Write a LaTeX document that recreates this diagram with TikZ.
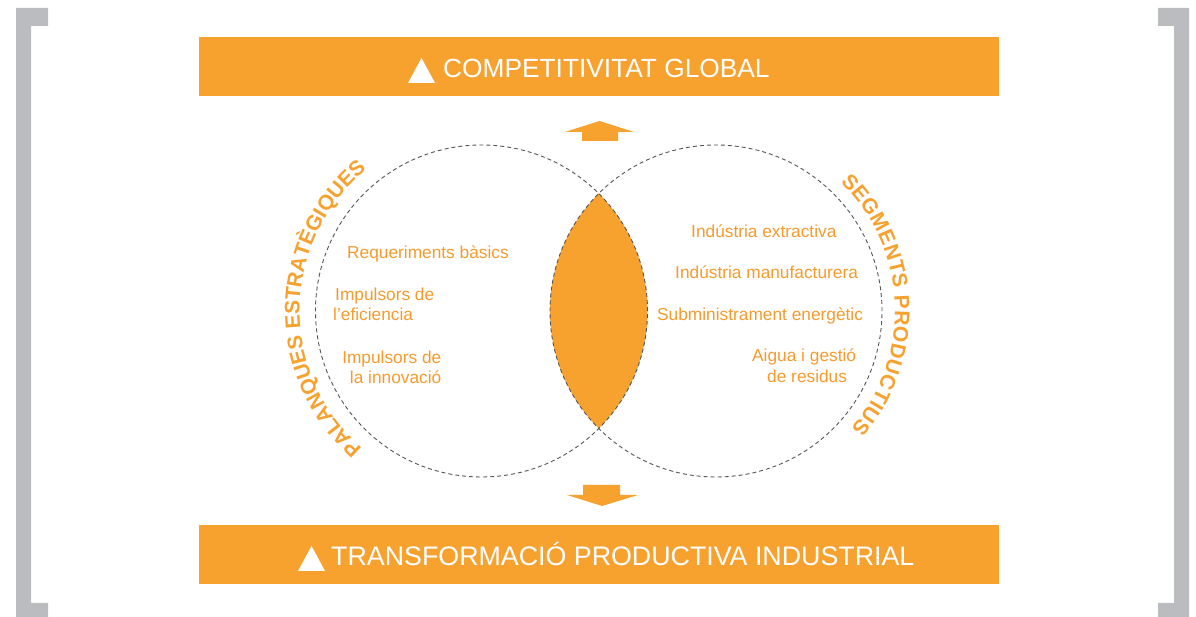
\documentclass[tikz,border=0pt]{standalone}
\usepackage{fontspec}
\setmainfont{Liberation Sans}
\newfontfamily\arcfont{Liberation Sans Bold}
\usetikzlibrary{decorations.text}
\definecolor{orng}{HTML}{F7A12F}
\definecolor{itm}{HTML}{F59B2E}
\definecolor{brk}{HTML}{BBBCC0}
\definecolor{dsh}{HTML}{555555}
\begin{document}
\begin{tikzpicture}[x=1pt,y=1pt,
  bracket/.style={fill=brk},
  banner/.style={fill=orng, draw=none, minimum width=800pt, minimum height=59pt, inner sep=0pt},
  bantxt/.style={text=white, inner sep=0pt, anchor=base west},
  circ/.style={circle, draw=dsh, line width=0.9pt, dash pattern=on 4pt off 3pt, minimum size=332pt, inner sep=0pt},
  itemw/.style={text=itm, font=\fontsize{17.3}{20}\selectfont, inner sep=0pt, anchor=base west},
  iteme/.style={text=itm, font=\fontsize{17.3}{20}\selectfont, inner sep=0pt, anchor=base east},
  blockarrow/.style={fill=orng}
]
\useasboundingbox (0,0) rectangle (1196,617);
% brackets
\fill[bracket] (16,609) -- (48,609) -- (48,591) -- (31,591) -- (31,14) -- (48,14) -- (48,0) -- (16,0) -- cycle;
\fill[bracket] (1189,609) -- (1158,609) -- (1158,591) -- (1174,591) -- (1174,14) -- (1158,14) -- (1158,0) -- (1189,0) -- cycle;
% banners
\node[banner] (topban) at (599,550.5) {};
\node[banner] (botban) at (599,62.5) {};
\fill[white] (408,534) -- (435,534) -- (421.5,559) -- cycle;
\node[bantxt, font=\fontsize{26.3}{30}\selectfont] (toptxt) at (443,539) {COMPETITIVITAT GLOBAL};
\fill[white] (298,46) -- (325,46) -- (311.5,71) -- cycle;
\node[bantxt, font=\fontsize{26.8}{30}\selectfont] (bottxt) at (331,51) {TRANSFORMACIÓ PRODUCTIVA INDUSTRIAL};
% block arrows
\fill[blockarrow] (582,476) -- (618,476) -- (618,485) -- (634,485) -- (599.5,496) -- (565,485) -- (582,485) -- cycle;
\fill[blockarrow] (583,132) -- (620,132) -- (620,122) -- (638,122) -- (602,111) -- (567,122) -- (583,122) -- cycle;
% lens
\begin{scope}
\clip (481.5,306) circle[radius=166];
\fill[orng] (716,306) circle[radius=166];
\end{scope}
% circles
\node[circ] (lc) at (481.5,306) {};
\node[circ] (rc) at (716,306) {};
% curved titles
\path[decorate, decoration={text along path, text color=orng,
   text={|\arcfont\fontsize{21}{21}\selectfont|PALANQUES ESTRATÈGIQUES}, text align={fit to path}}]
   (481.5,306) ++(229:182) arc[start angle=229, end angle=131, radius=182];
\path[decorate, decoration={text along path, text color=orng,
   text={|\arcfont\fontsize{21}{21}\selectfont|SEGMENTS PRODUCTIUS}, text align={fit to path}}]
   (716,306) ++(46:179) arc[start angle=46, end angle=-41, radius=179];
% left items
\node[itemw] (l1) at (347,358) {Requeriments bàsics};
\node[itemw] (l2) at (335,316) {Impulsors de};
\node[itemw] (l3) at (333,296.3) {l’eficiencia};
\node[iteme] (l4) at (441.5,253.7) {Impulsors de};
\node[iteme] (l5) at (441.5,233.7) {la innovació};
% right items
\node[itemw] (r1) at (691,379.7) {Indústria extractiva};
\node[itemw] (r2) at (675,338) {Indústria manufacturera};
\node[itemw] (r3) at (657,296) {Subministrament energètic};
\node[itemw] (r4) at (752,255) {Aigua i gestió};
\node[itemw] (r5) at (767,234.7) {de residus};
\end{tikzpicture}
\end{document}
